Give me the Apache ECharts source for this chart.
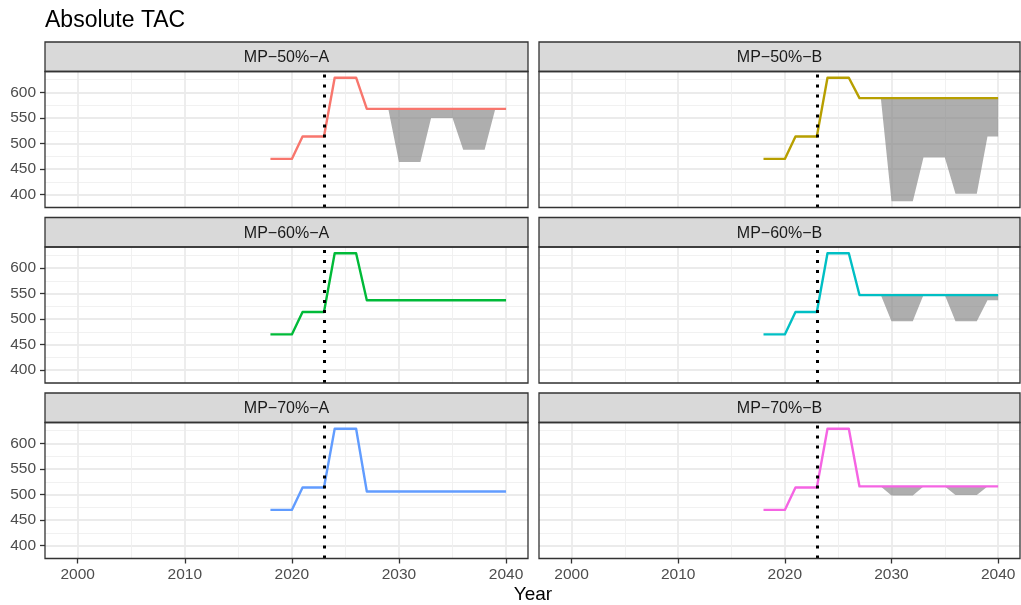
<!DOCTYPE html>
<html><head><meta charset="utf-8">
<script src="https://cdn.jsdelivr.net/npm/echarts@6/dist/echarts.min.js"></script>
<style>html,body{margin:0;padding:0;background:#fff}#c{width:1021px;height:605px}</style>
</head><body><div id="c"></div>
<script>
// ---------- data ----------
const chartTitle = 'Absolute TAC';
const xAxisName = 'Year';
const panelNames = ['MP\u221250%\u2212A', 'MP\u221250%\u2212B', 'MP\u221260%\u2212A', 'MP\u221260%\u2212B', 'MP\u221270%\u2212A', 'MP\u221270%\u2212B'];
const years = [2018,2019,2020,2021,2022,2023,2024,2025,2026,2027,2028,2029,2030,2031,2032,2033,2034,2035,2036,2037,2038,2039,2040];
const tac50A = [470,470,470,514,514,514,629,629,629,568,568,568,568,568,568,568,568,568,568,568,568,568,568];
const tac50B = [470,470,470,514,514,514,629,629,629,589,589,589,589,589,589,589,589,589,589,589,589,589,589];
const tac60A = [470,470,470,514,514,514,629,629,629,537,537,537,537,537,537,537,537,537,537,537,537,537,537];
const tac60B = [470,470,470,514,514,514,629,629,629,547,547,547,547,547,547,547,547,547,547,547,547,547,547];
const tac70A = [470,470,470,514,514,514,629,629,629,506,506,506,506,506,506,506,506,506,506,506,506,506,506];
const tac70B = [470,470,470,514,514,514,629,629,629,516,516,516,516,516,516,516,516,516,516,516,516,516,516];
const ribbonYears = [2028,2029,2030,2031,2032,2033,2034,2035,2036,2037,2038,2039,2040];
const rib50A_lo = [568,568,464,464,464,550,550,550,488,488,488,568,568];
const rib50A_hi = [568,568,568,568,568,568,568,568,568,568,568,568,568];
const rib50B_lo = [589,589,387,387,387,473,473,473,402,402,402,514,514];
const rib50B_hi = [589,589,589,589,589,589,589,589,589,589,589,589,589];
const rib60B_lo = [547,547,496,496,496,547,547,547,496,496,496,537,537];
const rib60B_hi = [547,547,547,547,547,547,547,547,547,547,547,547,547];
const rib70B_lo = [516,516,498,498,498,516,516,516,499,499,499,516,516];
const rib70B_hi = [516,516,516,516,516,516,516,516,516,516,516,516,516];
const refYear = 2023;
const xTicks = [2000, 2010, 2020, 2030, 2040];
const yTicks = [400, 450, 500, 550, 600];
const xRange = [1996.95, 2042.05];
const yRange = [374.9, 641.1];

// ---------- styling / layout ----------
const lineColors = ['#F8766D', '#B79F00', '#00BA38', '#00BFC4', '#619CFF', '#F564E3'];
const panelSeries = [tac50A, tac50B, tac60A, tac60B, tac70A, tac70B];
const panelRibbons = [[rib50A_lo, rib50A_hi], [rib50B_lo, rib50B_hi], null, [rib60B_lo, rib60B_hi], null, [rib70B_lo, rib70B_hi]];
const FONT = '"Liberation Sans", Arial, sans-serif';
const colLeft = [45, 539], colWidth = [483, 481];
const rowTop = [42, 217.5, 393], stripH = 29.5, plotH = 136;

function makeRibbon(i, lo, hi) {
  return {
    type: 'custom', xAxisIndex: i, yAxisIndex: i, silent: true, z: 2, clip: true,
    data: ribbonYears.map((y, k) => [y, lo[k], hi[k]]),
    encode: { x: 0, y: [1, 2] },
    renderItem: function (params, api) {
      if (params.dataIndex !== 0) return null;
      const pts = [];
      for (let k = 0; k < ribbonYears.length; k++) pts.push(api.coord([ribbonYears[k], hi[k]]));
      for (let k = ribbonYears.length - 1; k >= 0; k--) pts.push(api.coord([ribbonYears[k], lo[k]]));
      return { type: 'polygon', shape: { points: pts }, style: { fill: 'rgba(128,128,128,0.64)', stroke: null } };
    }
  };
}

const grids = [], xAxes = [], yAxes = [], series = [], graphics = [];
for (let r = 0; r < 3; r++) {
  for (let c = 0; c < 2; c++) {
    const i = r * 2 + c;
    const top = rowTop[r] + stripH;
    grids.push({ left: colLeft[c], top: top, width: colWidth[c], height: plotH, show: false, containLabel: false, outerBoundsMode: 'none' });
    const showX = r === 2, showY = c === 0;
    xAxes.push({
      type: 'value', gridIndex: i, min: xRange[0], max: xRange[1],
      axisLine: { show: false },
      axisTick: { show: showX, customValues: xTicks, length: 5, lineStyle: { color: '#333333', width: 1.3 } },
      axisLabel: { show: showX, customValues: xTicks, formatter: v => String(v), margin: 8, fontSize: 15.5, color: '#4D4D4D', fontFamily: FONT },
      splitLine: { show: true, lineStyle: { color: '#EBEBEB', width: 1.8 } },
      minorTick: { show: false, splitNumber: 2 },
      minorSplitLine: { show: true, lineStyle: { color: '#EFEFEF', width: 0.9 } }
    });
    yAxes.push({
      type: 'value', gridIndex: i, min: yRange[0], max: yRange[1],
      axisLine: { show: false },
      axisTick: { show: showY, customValues: yTicks, length: 5, lineStyle: { color: '#333333', width: 1.3 } },
      axisLabel: { show: showY, customValues: yTicks, formatter: v => String(v), margin: 9, fontSize: 15.5, color: '#4D4D4D', fontFamily: FONT },
      splitLine: { show: true, lineStyle: { color: '#EBEBEB', width: 1.8 } },
      minorTick: { show: false, splitNumber: 2 },
      minorSplitLine: { show: true, lineStyle: { color: '#EFEFEF', width: 0.9 } }
    });
    const rib = panelRibbons[i];
    if (rib) series.push(makeRibbon(i, rib[0], rib[1]));
    series.push({
      type: 'line', xAxisIndex: i, yAxisIndex: i, symbol: 'none', silent: true, z: 3,
      lineStyle: { color: lineColors[i], width: 2.4, join: 'round', cap: 'butt' },
      data: years.map((y, k) => [y, panelSeries[i][k]])
    });
    series.push({
      type: 'line', xAxisIndex: i, yAxisIndex: i, symbol: 'none', silent: true, z: 5, data: [],
      markLine: {
        silent: true, symbol: ['none', 'none'], label: { show: false }, animation: false,
        lineStyle: { color: '#000000', width: 3, type: [3, 7] },
        data: [{ xAxis: refYear }]
      }
    });
    // strip
    graphics.push({ type: 'rect', z: 50, shape: { x: colLeft[c], y: rowTop[r], width: colWidth[c], height: stripH },
      style: { fill: '#D9D9D9', stroke: '#333333', lineWidth: 1.3 } });
    graphics.push({ type: 'text', z: 51, x: colLeft[c] + colWidth[c] / 2, y: rowTop[r] + stripH / 2 + 1,
      style: { text: panelNames[i], fill: '#1A1A1A', font: '16px ' + FONT, textAlign: 'center', textVerticalAlign: 'middle' } });
    // panel border
    graphics.push({ type: 'rect', z: 50, shape: { x: colLeft[c], y: top, width: colWidth[c], height: plotH },
      style: { fill: 'none', stroke: '#333333', lineWidth: 1.3 } });
  }
}
graphics.push({ type: 'text', z: 51, x: 533, y: 595,
  style: { text: xAxisName, fill: '#000000', font: '19px ' + FONT, textAlign: 'center', textVerticalAlign: 'middle' } });

const chart = echarts.init(document.getElementById('c'), null, { renderer: 'canvas' });
chart.setOption({
  animation: false,
  backgroundColor: '#FFFFFF',
  title: { text: chartTitle, left: 45, top: 9, padding: 0, textStyle: { fontSize: 23, fontWeight: 'normal', color: '#000000', fontFamily: FONT } },
  grid: grids, xAxis: xAxes, yAxis: yAxes, series: series, graphic: graphics
});
</script></body></html>
